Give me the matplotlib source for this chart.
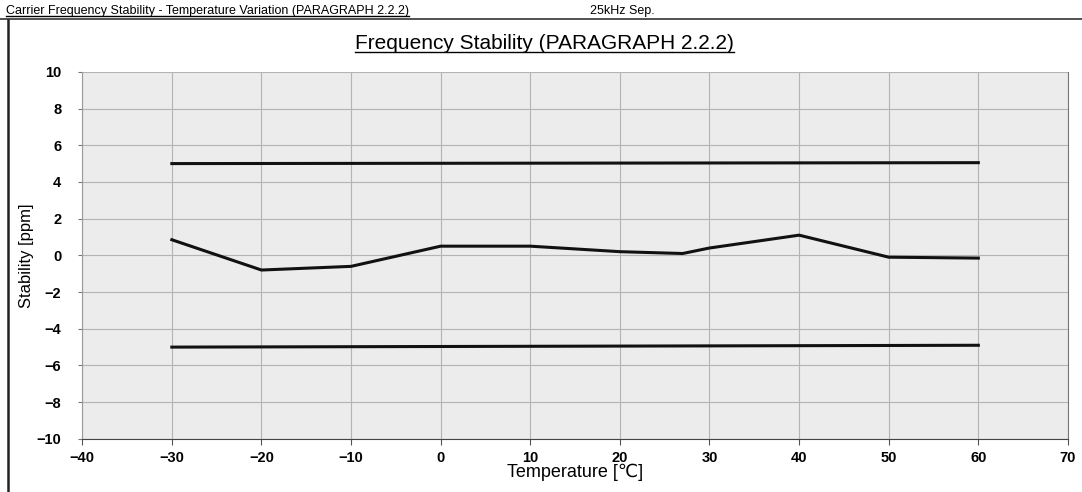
import matplotlib
matplotlib.use("Agg")
import matplotlib.pyplot as plt
from matplotlib.lines import Line2D

temp = [-30, -20, -10, 0, 10, 20, 27, 30, 40, 50, 60]
stab = [0.85, -0.8, -0.6, 0.5, 0.5, 0.2, 0.1, 0.4, 1.1, -0.1, -0.15]
# spec limits
lim_x = [-30, 60]
upper = [5.0, 5.05]
lower = [-5.0, -4.9]

plt.rcParams['font.family'] = ['Liberation Sans', 'DejaVu Sans']

fig = plt.figure(figsize=(10.82, 4.92), dpi=100)
ax = fig.add_axes([0.076, 0.108, 0.911, 0.746])
ax.set_facecolor('#ececec')

ax.plot(lim_x, upper, color='#111111', lw=2.2)
ax.plot(lim_x, lower, color='#111111', lw=2.2)
ax.plot(temp, stab, color='#111111', lw=2.2)

ax.set_xlim(-40, 70)
ax.set_ylim(-10, 10)
ax.set_xticks(range(-40, 71, 10))
ax.set_yticks(range(-10, 11, 2))
ax.grid(True, color='#b4b4b4', lw=0.8)
ax.set_axisbelow(True)
ax.spines['top'].set_visible(False)
ax.spines['right'].set_color('#777777')
ax.spines['left'].set_color('#999999')
ax.spines['bottom'].set_color('#444444')
ax.tick_params(axis='x', length=4, pad=5, labelsize=10.5, color='#555555')
ax.tick_params(axis='y', length=3, pad=12, labelsize=10.5, color='#777777')
for lb in ax.get_xticklabels() + ax.get_yticklabels():
    lb.set_fontweight('bold')

ax.set_xlabel('Temperature [℃]', fontsize=13, labelpad=-1)
ax.set_ylabel('Stability [ppm]', fontsize=12, labelpad=2)

# header
h = fig.text(0.006, 0.978, 'Carrier Frequency Stability - Temperature Variation (PARAGRAPH 2.2.2)',
             fontsize=9, va='center')
fig.text(0.545, 0.978, '25kHz Sep.', fontsize=9, va='center')
fig.add_artist(Line2D([0, 1], [0.962, 0.962], color='#333333', lw=1.2))
fig.add_artist(Line2D([0.007, 0.007], [0.0, 0.96], color='#222222', lw=1.8))

t = fig.text(0.503, 0.912, 'Frequency Stability (PARAGRAPH 2.2.2)', fontsize=15,
             ha='center', va='center')

fig.canvas.draw()
inv = fig.transFigure.inverted()
for txt in [h, t]:
    bb = txt.get_window_extent().transformed(inv)
    fig.add_artist(Line2D([bb.x0, bb.x1], [bb.y0 + 0.002, bb.y0 + 0.002], color='black', lw=1))

fig.savefig('out.png', dpi=100)
